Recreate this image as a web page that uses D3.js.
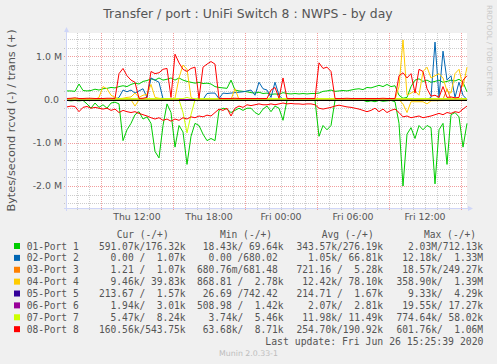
<!DOCTYPE html>
<html>
<head>
<meta charset="utf-8">
<script src="https://cdn.jsdelivr.net/npm/d3@7"></script>
<style>
  body { margin: 0; background: #f0f0f0; }
  svg text { font-family: "DejaVu Sans", sans-serif; fill: #555; }
  svg text.mono { font-family: "DejaVu Sans Mono", monospace; white-space: pre; }
</style>
</head>
<body>
<div id="chart"></div>
<script>
// samples every 20 minutes, values in M bytes/second
const start = new Date(2020, 5, 25, 6, 10, 0);
const stepMinutes = 20;

const port1Out = [0.2,0.2,0.19,0.36,0.21,0.2,0.21,0.24,0.22,0.25,0.26,0.28,0.27,
  0.3,0.32,0.3,0.35,0.38,0.36,0.42,0.44,0.48,0.45,0.5,0.45,0.47,
  0.5,0.45,0.5,0.45,0.42,0.4,0.38,0.4,0.37,0.38,0.36,0.3,0.28,0.27,0.26,0.45,0.22,0.2,0.19,0.18,0.16,0.15,0.17,0.14,0.15,
  0.12,0.13,0.12,0.16,0.14,0.13,0.14,0.13,0.14,0.13,0.14,0.14,0.15,0.19,0.2,0.22,0.19,0.2,0.21,0.2,0.22,0.24,0.25,0.23,0.28,
  0.27,0.3,0.33,0.3,0.35,0.3,0.32,0.1,0.03,0.05,0.3,0.45,0.48,0.42,0.45,0.4,0.42,0.45,0.4,0.42,0.45,0.43,0.47,0.4,0.18];
const port1In = [-0.02,-0.03,-0.02,-0.03,-0.02,-0.1,-0.2,-0.08,-0.18,-0.12,-0.2,-0.08,-0.06,-0.1,
  -0.95,-0.7,-0.55,-0.35,-0.28,-0.45,-0.4,-0.55,-1.2,-1.35,-0.6,-0.1,-0.3,-1.1,-0.6,-0.75,-1.5,-0.85,-0.55,-0.6,-0.8,-0.95,-0.9,-0.95,
  -0.25,-0.2,-0.22,-0.3,-0.25,-0.2,-0.25,-0.2,-0.2,-0.3,-0.35,-0.22,-0.15,
  -0.28,-0.15,-0.2,-0.48,-0.02,-0.015,-0.015,-0.02,-0.015,-0.015,-0.02,-0.015,
  -0.85,-0.6,-0.7,-0.6,-0.02,-0.015,-0.015,-0.02,-0.015,-0.015,-0.02,-0.015,-0.05,
  -0.03,-0.05,-0.02,-0.04,-0.03,-0.02,-0.05,-0.55,-2.0,-0.8,-0.65,-0.9,-0.6,-0.7,-0.6,-0.65,-1.95,-0.7,-0.55,-1.5,-0.35,-0.3,-0.4,-1.1,-0.55];
const port8Out = [0.025,0.03,0.04,0.025,0.025,0.03,0.03,0.025,0.025,0.025,0.03,0.03,0.025,
  0.6,0.72,0.55,0.45,0.4,0.025,0.03,0.05,0.65,0.6,0.62,0.7,0.72,0.05,
  1.05,0.85,0.7,0.65,0.72,0.75,0.025,0.75,0.82,0.88,0.82,
  0.025,0.025,0.025,0.025,0.03,0.025,0.025,0.025,0.025,0.025,0.025,0.025,0.025,
  0.22,0.28,0.03,0.5,0.025,0.025,0.025,0.025,0.025,0.025,0.025,0.025,
  0.85,0.72,0.75,0.65,
  0.025,0.025,0.025,0.03,0.025,0.025,0.025,0.025,0.025,0.025,0.025,0.025,0.03,0.025,0.025,0.025,
  0.55,0.62,0.5,0.6,0.15,0.7,0.65,0.25,0.08,0.1,0.05,0.3,0.05,0.06,0.04,0.05,0.45,0.55];
const port8In = [-0.17,-0.15,-0.16,-0.28,-0.18,-0.16,-0.2,-0.18,-0.2,-0.22,-0.2,-0.25,-0.22,-0.3,-0.25,-0.28,-0.3,-0.28,
  -0.32,-0.35,-0.38,-0.42,-0.45,-0.42,-0.48,-0.45,-0.5,-0.45,-0.48,-0.42,-0.45,-0.4,-0.42,-0.38,-0.4,-0.36,-0.38,-0.3,
  -0.22,-0.25,-0.2,-0.38,-0.2,-0.15,-0.18,-0.12,-0.14,-0.12,-0.1,-0.12,-0.12,
  -0.1,-0.12,-0.1,-0.08,-0.1,-0.09,-0.1,-0.1,-0.11,-0.1,-0.1,-0.12,-0.2,-0.22,-0.2,-0.18,-0.15,-0.13,-0.15,-0.17,-0.18,-0.2,-0.22,-0.25,-0.28,
  -0.25,-0.2,-0.28,-0.22,-0.3,-0.25,-0.22,-0.3,-0.4,-0.38,-0.42,-0.4,-0.38,-0.42,-0.4,-0.38,-0.35,-0.32,-0.35,-0.3,-0.32,-0.28,-0.3,-0.22,-0.15];
const port2Out = [0,0,0,0,0,0,0,0,0,0,0,0,0,
  0.05,0.22,0.18,0.22,0.15,0.2,0.25,0.05,0.5,0.45,0.4,0.02,
  0,0,0,0,0,0,0,0,0,0,0.14,0.15,0.15,
  0.02,0.15,0.14,0.15,0.16,0.17,0.18,0.2,0.22,0.1,0.4,0.25,0.22,0.05,0.4,0.1,
  0,0,0,0,0,0,0,0,0,0,0,0,0,0,0,0,0,0,0,0,0,0,0,0,0,0,0,0,0,0,0,0,0,0,0,0,0,
  0.05,1.33,0.05,1.12,0.45,0.55,0.05,0.4,0.1,0];
const port4Out = [0,0,0,0,0,0,0,0,
  0.05,0.3,0.25,0.1,0.05,0.02,0.03,0.05,0.06,0.15,0.05,0.1,0.12,0.35,0.05,0.03,
  0.02,0.02,0.02,0.03,0.5,0.8,0.7,0.05,
  0,0,0,0,0,0,0,0,0,0,0.25,
  0,0,0,0,0,0,0,0,0,0,0,0,0,0,0,0,0,0,0,0,
  0,0,0,0,0,0,0,0,0,0,0,0,0,0,0,0,0,0,0,0,
  0.3,1.38,0.1,0.15,0.2,0.1,0.65,0.75,0.5,0.55,0.6,0.5,0.2,0.15,0.6,0.7,0.3,0.75];

// quiet series as [sample, value] points
const port2In = [[0, -0.001], [100, -0.001]];
const port3Out = [[0, 0.001], [94, 0.001], [95, 0.25], [96, 0.001], [100, 0.001]];
const port3In = [[0, -0.001], [100, -0.001]];
const port4In = [[0, -0.005], [16, -0.005], [17, -0.15], [18, -0.005], [83, -0.005], [84, -0.1], [85, -0.3], [86, -0.05], [89, -0.05], [90, -0.1], [91, -0.03], [100, -0.01]];
const port5Out = [[0, 0.001], [100, 0.001]];
const port5In = [[0, -0.001], [100, -0.001]];
const port6Out = [[0, 0.003], [100, 0.003]];
const port6In = [[0, -0.002], [100, -0.002]];
const port7Out = [[0, 0.023], [29, 0.023], [30, 0.05], [31, 0.023], [100, 0.023]];
const port7In = [[0, -0.005], [28, -0.005], [29, -0.3], [30, -0.77], [31, -0.35], [32, -0.005], [100, -0.005]];

const portNames = ["01-Port 1", "02-Port 2", "03-Port 3", "04-Port 4", "05-Port 5", "06-Port 6", "07-Port 7", "08-Port 8"];
const portColors = ["#00CC00", "#0066B3", "#FF8000", "#FFCC00", "#330099", "#990099", "#CCFF00", "#FF0000"];
const legendCur = ["591.07k/176.32k", "  0.00 /  1.07k", "  1.21 /  1.07k", "  9.46k/ 39.83k", "213.67 /  1.57k", "  1.94k/  3.01k", "  5.47k/  8.24k", "160.56k/543.75k"];
const legendMin = [" 18.43k/ 69.64k", "  0.00 /680.02 ", "680.76m/681.48 ", "868.81 /  2.78k", " 26.69 /742.42 ", "508.98 /  1.42k", "  3.74k/  5.46k", " 63.68k/  8.71k"];
const legendAvg = ["343.57k/276.19k", "  1.05k/ 66.81k", "721.16 /  5.28k", " 12.42k/ 78.10k", "214.71 /  1.67k", "  2.07k/  2.81k", " 11.98k/ 11.49k", "254.70k/190.92k"];
const legendMax = ["  2.03M/712.13k", " 12.18k/  1.33M", " 18.57k/249.27k", "358.90k/  1.39M", "  9.33k/  4.29k", " 19.55k/ 17.27k", "774.64k/ 58.02k", "601.76k/  1.06M"];
const legendHeaders = ["Cur (-/+)", "Min (-/+)", "Avg (-/+)", "Max (-/+)"];
const yTicks = [1, 0, -1, -2];

const toPairs = arr => arr.map((v, i) => [i, v]);
const rcvd = [toPairs(port1In), port2In, port3In, port4In, port5In, port6In, port7In, toPairs(port8In)];
const trans = [toPairs(port1Out), toPairs(port2Out), port3Out, toPairs(port4Out), port5Out, port6Out, port7Out, toPairs(port8Out)];

const width = 497, height = 364;
const plotLeft = 67, plotRight = 467, plotTop = 33, plotBottom = 208;
const end = d3.timeMinute.offset(start, stepMinutes * 100);

const svg = d3.select("#chart").append("svg")
  .attr("width", width)
  .attr("height", height);

svg.append("rect").attr("width", width).attr("height", height).attr("fill", "#f0f0f0");
svg.append("rect").attr("x", plotLeft).attr("y", plotTop).attr("width", plotRight - plotLeft).attr("height", plotBottom - plotTop).attr("fill", "#fff");

const x = d3.scaleTime().domain([start, end]).range([plotLeft, plotRight]);
const y = d3.scaleLinear().domain([-2.52, 1.54]).range([plotBottom + 0.5, plotTop]);
const px = v => Math.round(v) + 0.5;

// grid
const grid = svg.append("g");
const minorGrey = "rgba(143,143,143,0.45)";
const majorRed = "rgba(230,60,60,0.5)";

const yMinor = d3.range(-24, 15, 2).map(d => d / 10).filter(d => Math.abs(d % 1) > 0.01);
grid.selectAll(".yminor").data(yMinor).join("line")
  .attr("x1", plotLeft - 3).attr("x2", plotRight)
  .attr("y1", d => px(y(d))).attr("y2", d => px(y(d)))
  .attr("stroke", minorGrey).attr("stroke-dasharray", "1,1");

const hours = d3.timeHour.range(start, end);
grid.selectAll(".xminor").data(hours.filter(d => d.getHours() % 6 !== 3)).join("line")
  .attr("x1", d => px(x(d))).attr("x2", d => px(x(d)))
  .attr("y1", plotTop).attr("y2", plotBottom + 3)
  .attr("stroke", minorGrey).attr("stroke-dasharray", "1,1");

grid.selectAll(".ymajor").data(yTicks).join("line")
  .attr("x1", plotLeft - 3).attr("x2", plotRight)
  .attr("y1", d => px(y(d))).attr("y2", d => px(y(d)))
  .attr("stroke", majorRed).attr("stroke-dasharray", "1,1");

grid.selectAll(".xmajor").data(hours.filter(d => d.getHours() % 6 === 3)).join("line")
  .attr("x1", d => px(x(d))).attr("x2", d => px(x(d)))
  .attr("y1", plotTop).attr("y2", plotBottom + 3)
  .attr("stroke", majorRed).attr("stroke-dasharray", "1,1");

// axes
const axisColor = "#cfd6f8";
svg.append("line").attr("x1", plotLeft - 3).attr("x2", plotRight + 3).attr("y1", plotBottom + 0.5).attr("y2", plotBottom + 0.5).attr("stroke", axisColor);
svg.append("line").attr("x1", plotLeft - 0.5).attr("x2", plotLeft - 0.5).attr("y1", plotBottom + 3).attr("y2", plotTop - 3).attr("stroke", axisColor);
svg.append("path").attr("d", `M${plotRight + 1},${plotBottom - 2} L${plotRight + 6},${plotBottom + 0.5} L${plotRight + 1},${plotBottom + 3} Z`).attr("fill", axisColor);
svg.append("path").attr("d", `M${plotLeft - 3},${plotTop - 1} L${plotLeft - 0.5},${plotTop - 6} L${plotLeft + 2},${plotTop - 1} Z`).attr("fill", axisColor);

// tick labels
svg.selectAll(".ylab").data(yTicks).join("text")
  .attr("x", 62).attr("y", d => y(d) + 3.4)
  .attr("text-anchor", "end")
  .style("white-space", "pre")
  .style("font-size", "9.4px")
  .text(d => d === 0 ? "0.0 " : d.toFixed(1) + " M");

const fmt = d3.timeFormat("%a %H:%M");
svg.selectAll(".xlab").data(hours.filter(d => d.getHours() % 6 === 0)).join("text")
  .attr("x", d => x(d)).attr("y", 219.5)
  .attr("text-anchor", "middle")
  .style("font-size", "9.4px")
  .text(d => fmt(d));

// series, then the zero rule on top
const line = d3.line()
  .x(d => x(d3.timeMinute.offset(start, d[0] * stepMinutes)))
  .y(d => y(d[1]));

const plot = svg.append("g");
portColors.forEach((c, k) => {
  plot.append("path").attr("d", line(rcvd[k])).attr("fill", "none").attr("stroke", c).attr("stroke-width", 1);
  plot.append("path").attr("d", line(trans[k])).attr("fill", "none").attr("stroke", c).attr("stroke-width", 1);
});

svg.append("line").attr("x1", plotLeft).attr("x2", plotRight)
  .attr("y1", px(y(0))).attr("y2", px(y(0)))
  .attr("stroke", "#000").attr("stroke-width", 1);

// titles
svg.append("text").attr("x", 248).attr("y", 17.5).attr("text-anchor", "middle")
  .style("font-size", "12.4px").text("Transfer / port : UniFi Switch 8 : NWPS - by day");
svg.append("text").attr("transform", "translate(14.5,120.5) rotate(-90)").attr("text-anchor", "middle")
  .style("font-size", "11.3px").text("Bytes/second rcvd (-) / trans (+)");
svg.append("text").attr("transform", "translate(486.5,5) rotate(90)")
  .style("font-size", "7.1px").style("fill", "#c8c8c8").text("RRDTOOL / TOBI OETIKER");

// legend
const rowY = i => 249.5 + i * 11.88;
const colX = [99, 197, 296.5, 396.5];
const headerX = [116.7, 220, 321.7, 424];
svg.selectAll(".lhead").data(legendHeaders).join("text")
  .attr("class", "mono").attr("x", (d, i) => headerX[i]).attr("y", 237.6)
  .style("font-size", "9.6px").text(d => d);

const legend = svg.append("g");
legend.selectAll("rect").data(portColors).join("rect")
  .attr("x", 14).attr("y", (d, i) => rowY(i) - 6.5)
  .attr("width", 6).attr("height", 6).attr("fill", d => d);
legend.selectAll(".lname").data(portNames).join("text")
  .attr("class", "mono").attr("x", 26.7).attr("y", (d, i) => rowY(i))
  .style("font-size", "9.6px").text(d => d);
[legendCur, legendMin, legendAvg, legendMax].forEach((col, c) => {
  legend.selectAll(".lcol" + c).data(col).join("text")
    .attr("class", "mono").attr("x", colX[c]).attr("y", (d, i) => rowY(i))
    .style("font-size", "9.6px").text(d => d);
});

svg.append("text").attr("class", "mono").attr("x", 483.5).attr("y", 344.5)
  .attr("text-anchor", "end").style("font-size", "9.8px")
  .text("Last update: Fri Jun 26 15:25:39 2020");
svg.append("text").attr("x", 248.5).attr("y", 356).attr("text-anchor", "middle")
  .style("font-size", "7.8px").style("fill", "#bdbdbd").text("Munin 2.0.33-1");
</script>
</body>
</html>
